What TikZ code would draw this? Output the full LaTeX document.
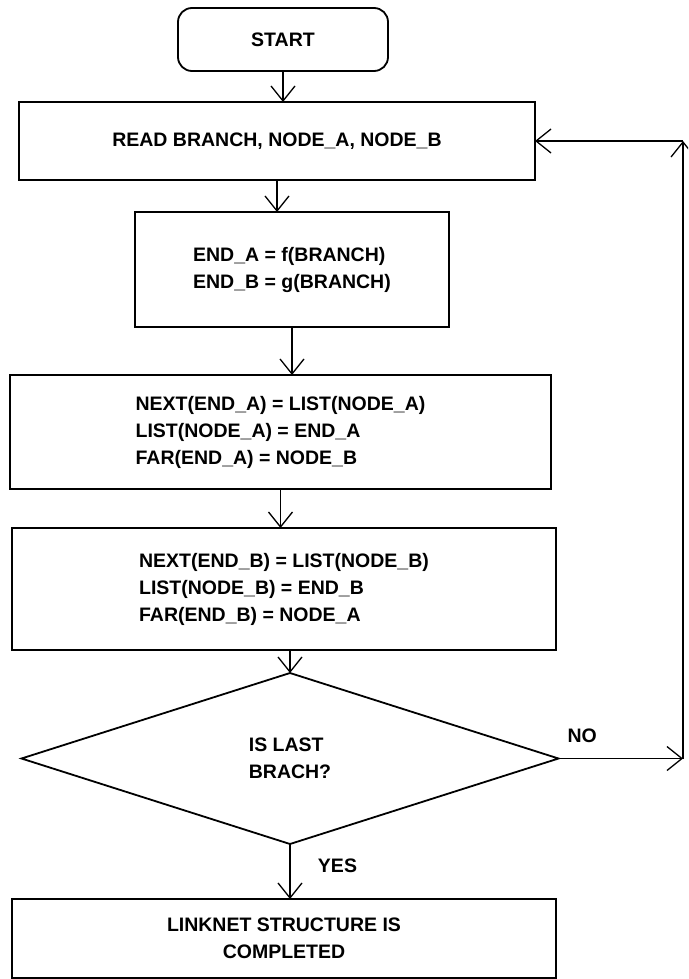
\documentclass[tikz,border=0pt]{standalone}
\usepackage{fontspec}
\setmainfont{Liberation Sans}
\usetikzlibrary{positioning, arrows.meta, shapes.geometric}
\tikzset{->,>={Straight Barb[length=15pt,width=24pt]},
block/.style={draw, rectangle, line width=1.8pt, align=left, inner sep=0pt, outer sep=0pt,
  font=\fontsize{19.5}{27}\selectfont\bfseries},
terminal/.style={block, rounded corners=14pt},
decision/.style={block, diamond},
tag/.style={font=\fontsize{19.5}{27}\selectfont\bfseries}}

\begin{document}
\begin{tikzpicture}[x=1pt, y=-1pt, line width=1.3pt]
\useasboundingbox (0,0) rectangle (688,979);
\clip (0,0) rectangle (688,979);
\node[terminal, minimum width=210pt, minimum height=63pt] (start) at (283,39.5) {START};
\node[block, below=31pt of start, xshift=-6pt, minimum width=516pt, minimum height=78pt] (read) {READ BRANCH, NODE\_A, NODE\_B};
\node[block, below=32pt of read, xshift=15pt, minimum width=314pt, minimum height=115pt] (enda) {END\_A = f(BRANCH)\\END\_B = g(BRANCH)};
\node[block, below=48pt of enda, xshift=-11.5pt, minimum width=541pt, minimum height=114pt] (nexta) {NEXT(END\_A) = LIST(NODE\_A)\\LIST(NODE\_A) = END\_A\\FAR(END\_A) = NODE\_B};
\node[block, below=39pt of nexta, xshift=3.5pt, minimum width=544pt, minimum height=122pt] (nextb) {NEXT(END\_B) = LIST(NODE\_B)\\LIST(NODE\_B) = END\_B\\FAR(END\_B) = NODE\_A};
\node[decision, below=23pt of nextb, xshift=6pt, minimum width=537pt, minimum height=171pt] (ask) {IS LAST\\BRACH?};
\node[block, below=55pt of ask, xshift=-6pt, minimum width=544pt, minimum height=79pt, align=center] (done) {LINKNET STRUCTURE IS\\COMPLETED};
\coordinate (rail) at (683,0);
\draw (start.south) -- (start.south |- read.north);
\draw (read.south) -- (read.south |- enda.north);
\draw (enda.south) -- (enda.south |- nexta.north);
\draw (nexta.south) -- (nexta.south |- nextb.north);
\draw (nextb.south -| ask.north) -- (ask.north);
\draw (ask.south) -- (ask.south |- done.north) node[tag, right=24pt, pos=0.4] {YES};
% back to the next branch
\draw (ask.east) -- (ask.east -| rail) node[tag, above=12pt, pos=0.19] {NO};
\draw (ask.east -| rail) -- (read.east -| rail);
\draw (read.east -| rail) -- (read.east);
\end{tikzpicture}
\end{document}
